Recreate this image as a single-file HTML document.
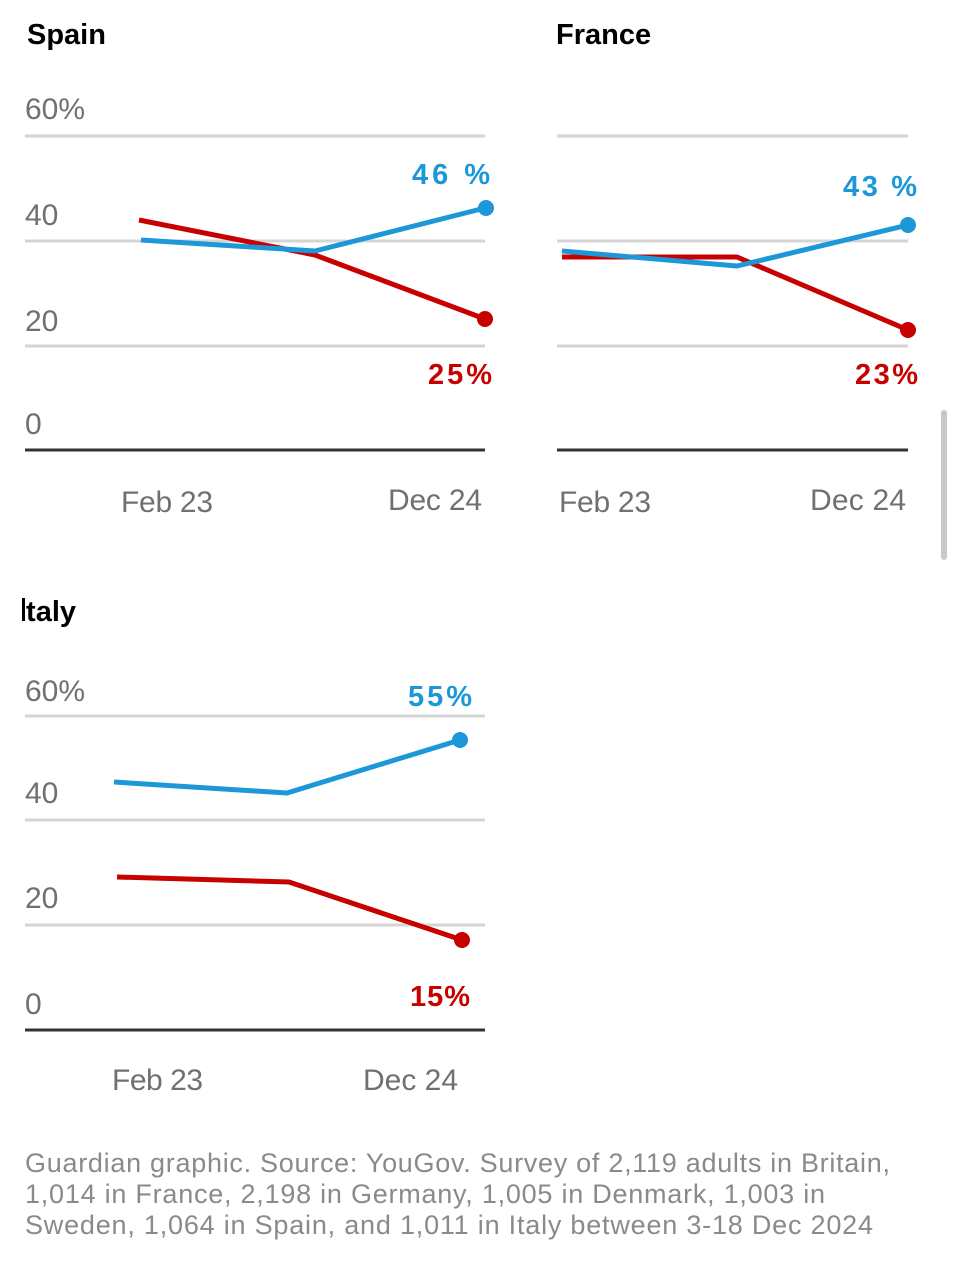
<!DOCTYPE html>
<html><head><meta charset="utf-8"><style>
html,body{margin:0;padding:0;background:#fff;}
svg{display:block;}
text{font-family:"Liberation Sans",sans-serif;}
</style></head><body>
<svg width="955" height="1280" viewBox="0 0 955 1280" xmlns="http://www.w3.org/2000/svg">
<rect width="955" height="1280" fill="#fff"/>
<!-- Spain -->
<text x="27" y="44" font-size="29" font-weight="bold" fill="#000">Spain</text>
<g stroke="#d4d4d4" stroke-width="3"><line x1="25" y1="136" x2="485" y2="136"/><line x1="25" y1="241" x2="485" y2="241"/><line x1="25" y1="346" x2="485" y2="346"/></g>
<line x1="25" y1="450" x2="485" y2="450" stroke="#333" stroke-width="3"/>
<g font-size="30" fill="#707070"><text x="25" y="119">60%</text><text x="25" y="225">40</text><text x="25" y="331">20</text><text x="25" y="434">0</text>
<text x="121" y="512" textLength="92">Feb 23</text><text x="388" y="510" textLength="94">Dec 24</text></g>
<polyline points="139,220 315,255 485,319" fill="none" stroke="#c70000" stroke-width="5" stroke-linejoin="round"/>
<circle cx="485" cy="319" r="8" fill="#c70000"/>
<polyline points="141,240 315,251 485,208" fill="none" stroke="#1c98d8" stroke-width="5" stroke-linejoin="round"/>
<circle cx="486" cy="208" r="8" fill="#1c98d8"/>
<text x="412" y="184" font-size="29" font-weight="bold" fill="#1c98d8" textLength="78">46 %</text>
<text x="428" y="384" font-size="29" font-weight="bold" fill="#c70000" textLength="64">25%</text>
<!-- France -->
<text x="556" y="44" font-size="29" font-weight="bold" fill="#000">France</text>
<g stroke="#d4d4d4" stroke-width="3"><line x1="557" y1="136" x2="908" y2="136"/><line x1="557" y1="241" x2="908" y2="241"/><line x1="557" y1="346" x2="908" y2="346"/></g>
<line x1="557" y1="450" x2="908" y2="450" stroke="#333" stroke-width="3"/>
<g font-size="30" fill="#707070"><text x="559" y="512" textLength="92">Feb 23</text><text x="810" y="510" textLength="96">Dec 24</text></g>
<polyline points="562,257 737,257 908,330" fill="none" stroke="#c70000" stroke-width="5" stroke-linejoin="round"/>
<circle cx="908" cy="330" r="8" fill="#c70000"/>
<polyline points="562,251 737,266 908,225" fill="none" stroke="#1c98d8" stroke-width="5" stroke-linejoin="round"/>
<circle cx="908" cy="225" r="8" fill="#1c98d8"/>
<text x="843" y="196" font-size="29" font-weight="bold" fill="#1c98d8" textLength="74">43 %</text>
<text x="855" y="384" font-size="29" font-weight="bold" fill="#c70000" textLength="63">23%</text>
<rect x="941" y="410" width="6" height="150" rx="3" fill="#c8c8c8"/>
<!-- Italy -->
<text x="18" y="621" font-size="29" font-weight="bold" fill="#000">Italy</text>
<rect x="0" y="590" width="24" height="40" fill="#fff"/>
<rect x="22" y="598" width="3" height="23" fill="#000"/>
<g stroke="#d4d4d4" stroke-width="3"><line x1="25" y1="716" x2="485" y2="716"/><line x1="25" y1="820" x2="485" y2="820"/><line x1="25" y1="925" x2="485" y2="925"/></g>
<line x1="25" y1="1030" x2="485" y2="1030" stroke="#333" stroke-width="3"/>
<g font-size="30" fill="#707070"><text x="25" y="701">60%</text><text x="25" y="803">40</text><text x="25" y="908">20</text><text x="25" y="1014">0</text>
<text x="112" y="1090" textLength="91">Feb 23</text><text x="363" y="1090" textLength="95">Dec 24</text></g>
<polyline points="114,782 287,793 460,740" fill="none" stroke="#1c98d8" stroke-width="5" stroke-linejoin="round"/>
<circle cx="460" cy="740" r="8" fill="#1c98d8"/>
<polyline points="117,877 289,882 462,940" fill="none" stroke="#c70000" stroke-width="5" stroke-linejoin="round"/>
<circle cx="462" cy="940" r="8" fill="#c70000"/>
<text x="408" y="706" font-size="29" font-weight="bold" fill="#1c98d8" textLength="64">55%</text>
<text x="410" y="1006" font-size="29" font-weight="bold" fill="#c70000" textLength="60">15%</text>
<g font-size="27" fill="#8a8a8a"><text x="25" y="1172" textLength="865">Guardian graphic. Source: YouGov. Survey of 2,119 adults in Britain,</text>
<text x="25" y="1203" textLength="800">1,014 in France, 2,198 in Germany, 1,005 in Denmark, 1,003 in</text>
<text x="25" y="1234" textLength="848">Sweden, 1,064 in Spain, and 1,011 in Italy between 3-18 Dec 2024</text></g>
</svg>
</body></html>
